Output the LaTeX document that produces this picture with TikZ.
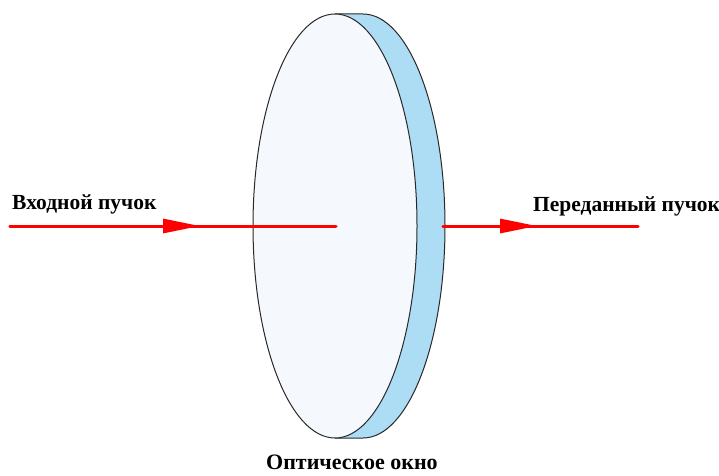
\documentclass[tikz,border=0pt]{standalone}
\usepackage{fontspec}
\setmainfont{Liberation Serif}
\usetikzlibrary{arrows.meta}
\definecolor{beamred}{RGB}{255,0,0}
\definecolor{glassface}{RGB}{245,249,253}
\definecolor{glassedge}{RGB}{173,220,245}
\definecolor{rim}{RGB}{40,40,40}

\tikzset{
  beam/.style={draw=beamred, line width=3pt, line cap=round},
  beamtip/.style={beam, -{Triangle[length=37pt,width=14pt]}},
  beamtext/.style={font=\fontsize{21.5}{26}\selectfont\bfseries, inner sep=0pt, anchor=base west},
}

\begin{document}
\begin{tikzpicture}[x=1pt,y=1pt]
	\useasboundingbox (0,0) rectangle (719,475);

	% rim of the window
	\fill [glassedge] (335,461) -- (363,461) arc [start angle=90, end angle=-90, x radius=82, y radius=212]
		-- (335,37) arc [start angle=-90, end angle=90, x radius=82, y radius=212] -- cycle;
	\draw [rim, line width=1pt] (335,461) -- (363,461) arc [start angle=90, end angle=-90, x radius=82, y radius=212] -- (335,37);
	% front face
	\filldraw [fill=glassface, draw=rim, line width=1pt] (335,249) ellipse [x radius=82, y radius=212];

	\coordinate (in-start) at (10,249);
	\coordinate (in-tip) at (200,249);
	\coordinate (in-end) at (336,249);
	\coordinate (out-start) at (443,249);
	\coordinate (out-tip) at (537,249);
	\coordinate (out-end) at (638,249);

	% beams, with the heads half way along
	\draw [beam] (in-start) -- (in-end);
	\draw [beamtip] (in-start) -- (in-tip);
	\draw [beam] (out-start) -- (out-end);
	\draw [beamtip] (out-start) -- (out-tip);

	\node [beamtext] (in-label) at (12,266) {Входной пучок};
	\node [beamtext] (out-label) at (533,264) {Переданный пучок};
	\node [beamtext, font=\fontsize{22}{26}\selectfont\bfseries] (window-label) at (266,6) {Оптическое окно};
\end{tikzpicture}
\end{document}
